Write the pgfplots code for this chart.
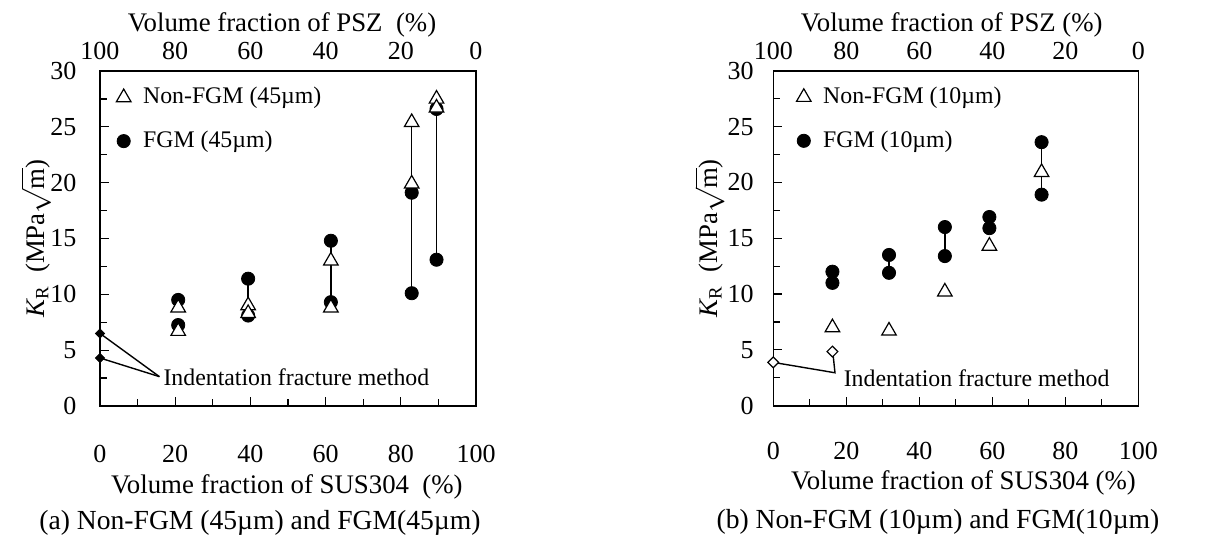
\documentclass[border=0pt]{standalone}
\usepackage{fontspec}
\setmainfont{Liberation Serif}
\usepackage{pgfplots}
\pgfplotsset{compat=1.18}
\newcommand\tickfont{\fontsize{13}{15}\selectfont}
\newcommand\labfont{\fontsize{13.4}{15.5}\selectfont}
\newcommand\legfont{\fontsize{11.9}{14}\selectfont}
\pgfplotsset{
  kr/.style={
    scale only axis,
    height=167.5pt,
    xmin=0, xmax=100, ymin=0, ymax=30,
    xtick={0,20,...,100},
    minor xtick={10,30,...,90},
    ytick={0,5,...,30},
    minor ytick={2.5,7.5,...,27.5},
    xtick pos=bottom, ytick pos=left,
    tick align=inside,
    major tick length=4.5pt, minor tick length=3.5pt,
    every tick/.style={black, line width=0.6pt},
    axis line style={line width=0.8pt},
    tick label style={font=\tickfont},
    label style={font=\labfont},
    /pgf/number format/assume math mode=true,
    clip=false,
    legend cell align=left,
    legend image code/.code={\path (0pt,0pt) (13.5pt,0pt); \draw[#1] plot coordinates {(6pt,0pt)};},
  },
  top/.style={
    scale only axis,
    height=167.5pt,
    xmin=0, xmax=100, ymin=0, ymax=1,
    x dir=reverse,
    axis x line*=top,
    hide y axis,
    xtick={0,20,...,100},
    major tick length=0pt,
    axis line style={draw=none},
    tick label style={font=\tickfont},
    label style={font=\labfont},
    /pgf/number format/assume math mode=true,
    xticklabel style={yshift=0.8pt},
  },
  fgm/.style={only marks, mark=*, mark size=3.3pt, mark options={fill=black, draw=black}},
  non/.style={only marks, mark=triangle*, mark size=4.2pt, mark options={fill=white, draw=black, line width=0.6pt}},
  vl/.style={black, line width=0.7pt, forget plot},
  lg/.style={draw=none, fill=none, inner sep=0pt, row sep=7.5pt, nodes={inner sep=2pt}, font=\legfont},
}
\begin{document}
\fontsize{13.8}{16}\selectfont
\begin{tikzpicture}
\useasboundingbox (0,0) rectangle (608pt,271.5pt);
% ---------------- (a) ----------------
\begin{axis}[kr, at={(50pt,68.5pt)}, anchor=south west, width=188pt,
  xticklabel style={yshift=-15pt},
  yticklabel style={xshift=-7pt},
  xlabel={Volume fraction of SUS304\ \ (\%)},
  xlabel style={at={(axis description cs:0.497,-0.242)}, anchor=center},
  ylabel={{\itshape K}\textsubscript{R}\ \ (MPa$\sqrt{\mbox{m}}$)},
  ylabel style={at={(axis description cs:-0.17,0.5)}, anchor=center, inner sep=0pt},
  legend style={lg, at={(axis description cs:0.029,0.965)}, anchor=north west},
]
\addplot[vl] coordinates {(39.4,11.4) (39.4,9.0)};
\addplot[vl] coordinates {(61.4,14.8) (61.4,8.8)};
\addplot[vl] coordinates {(82.9,25.4) (82.9,10.1)};
\addplot[vl] coordinates {(89.5,27.5) (89.5,13.1)};
\addplot[vl] coordinates {(0,6.5) (15.8,2.63)};
\addplot[vl] coordinates {(0,4.3) (15.8,2.63)};
\addplot[fgm, forget plot] coordinates {
 (20.8,9.5) (20.8,7.25) (39.4,11.4) (39.4,8.1) (61.4,14.8) (61.4,9.3)
 (82.9,19.1) (82.9,10.1) (89.5,26.6) (89.5,13.1)};
\addplot[non] coordinates {
 (20.8,8.8) (20.8,6.7) (39.4,9.0) (39.4,8.3) (61.4,13.0) (61.4,8.8)
 (82.9,25.4) (82.9,19.9) (89.5,27.5) (89.5,26.7)};
\addlegendentry{Non-FGM (45µm)}
\addplot[fgm] coordinates {(100,-100)};
\addlegendentry{FGM (45µm)}
\addplot[only marks, mark=square*, mark size=1.6pt, mark options={fill=black, rotate=45}, forget plot] coordinates {(0,6.5) (0,4.3)};
\node[anchor=west, inner sep=0pt, font=\legfont] at (axis cs:16.8,2.62) {Indentation fracture method};
\end{axis}
\begin{axis}[top, at={(50pt,68.5pt)}, anchor=south west, width=188pt,
  xlabel={Volume fraction of PSZ\ \ (\%)},
  xlabel style={at={(axis description cs:0.484,1.137)}, anchor=center},
]
\addplot[draw=none] coordinates {(0,0)};
\end{axis}
% ---------------- (b) ----------------
\begin{axis}[kr, at={(386.65pt,68.65pt)}, anchor=south west, width=182.5pt,
  xticklabel style={yshift=-13.5pt},
  yticklabel style={xshift=-5pt},
  xlabel={Volume fraction of SUS304 (\%)},
  xlabel style={at={(axis description cs:0.521,-0.231)}, anchor=center},
  ylabel={{\itshape K}\textsubscript{R}\ \ (MPa$\sqrt{\mbox{m}}$)},
  ylabel style={at={(axis description cs:-0.175,0.5)}, anchor=center, inner sep=0pt},
  legend style={lg, at={(axis description cs:0.0485,0.965)}, anchor=north west},
]
\addplot[vl] coordinates {(31.7,13.5) (31.7,11.9)};
\addplot[vl] coordinates {(47.0,16.0) (47.0,13.4)};
\addplot[vl] coordinates {(73.5,23.6) (73.5,18.9)};
\addplot[vl] coordinates {(16.2,12.0) (16.2,11.0)};
\addplot[vl] coordinates {(59.2,16.9) (59.2,15.9)};
\addplot[vl] coordinates {(0,3.88) (16.9,2.95) (16.4,4.5)};
\addplot[fgm, forget plot] coordinates {
 (16.2,12.0) (16.2,11.0) (31.7,13.5) (31.7,11.9) (47.0,16.0) (47.0,13.4)
 (59.2,16.9) (59.2,15.9) (73.5,23.6) (73.5,18.9)};
\addplot[non] coordinates {
 (16.2,7.0) (31.7,6.7) (47.0,10.2) (59.2,14.3) (73.5,20.9)};
\addlegendentry{Non-FGM (10µm)}
\addplot[fgm] coordinates {(100,-100)};
\addlegendentry{FGM (10µm)}
\addplot[only marks, mark=square*, mark size=1.9pt, mark options={fill=white, draw=black, line width=0.6pt, rotate=45}, forget plot] coordinates {(0,3.88) (16.2,4.85)};
\node[anchor=west, inner sep=0pt, font=\legfont] at (axis cs:19.2,2.42) {Indentation fracture method};
\end{axis}
\begin{axis}[top, at={(386.65pt,68.65pt)}, anchor=south west, width=182.5pt,
  xlabel={Volume fraction of PSZ (\%)},
  xlabel style={at={(axis description cs:0.489,1.137)}, anchor=center},
]
\addplot[draw=none] coordinates {(0,0)};
\end{axis}
% captions
\node at (130pt,10pt) {(a) Non-FGM (45µm) and FGM(45µm)};
\node at (469pt,10.5pt) {(b) Non-FGM (10µm) and FGM(10µm)};
\end{tikzpicture}
\end{document}
